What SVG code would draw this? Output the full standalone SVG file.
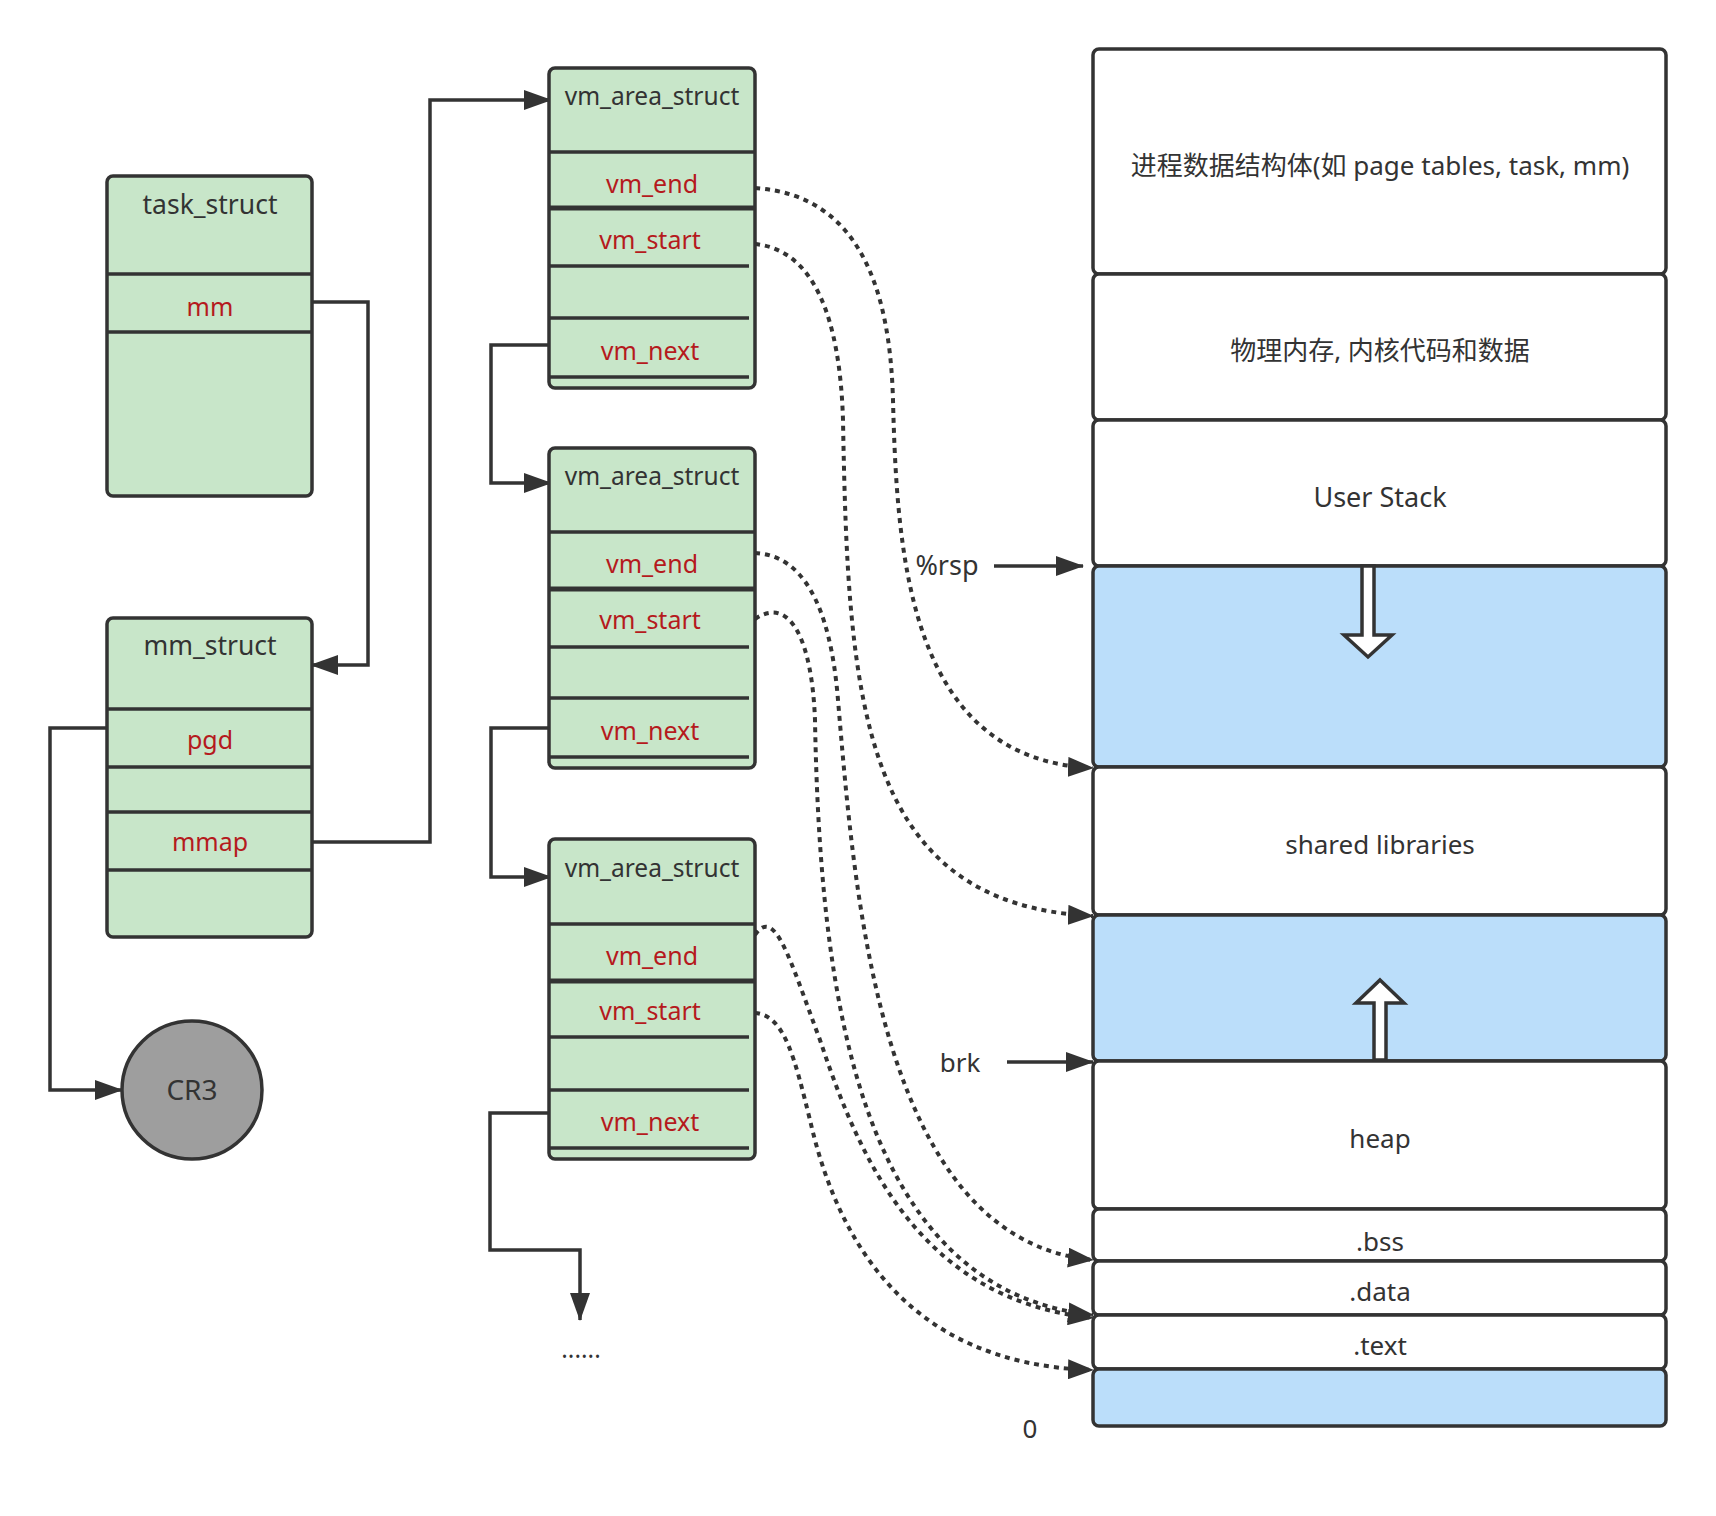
<svg xmlns="http://www.w3.org/2000/svg" width="1716" height="1516" viewBox="0 0 1716 1516">
<defs>
<style>
text{font-family:"Noto Sans","Liberation Sans","Noto Sans CJK SC",sans-serif;fill:#333;text-anchor:middle}
.t{font-size:24.5px}
.h{font-size:26.5px}
.r{font-size:25px;fill:#B51A1D}
.m{font-size:26px}
.g{fill:#C8E6C9;stroke:#333;stroke-width:3.5}
.w{fill:#fff;stroke:#333;stroke-width:3.5}
.b{fill:#BBDEFA;stroke:#333;stroke-width:3.5}
.d{stroke:#333;stroke-width:3.5}
.c{fill:none;stroke:#333;stroke-width:3.5;marker-end:url(#arr)}
.k{fill:none;stroke:#333;stroke-width:4;stroke-dasharray:5 5;marker-end:url(#arr2)}
.ba{fill:#fff;stroke:#333;stroke-width:3.5;stroke-linejoin:miter}
</style>
<marker id="arr" markerUnits="userSpaceOnUse" markerWidth="28" markerHeight="20" refX="27" refY="10" orient="auto"><path d="M0,0 L28,10 L0,20 Z" fill="#333"/></marker>
<marker id="arr2" markerUnits="userSpaceOnUse" markerWidth="26" markerHeight="20" refX="25" refY="10" orient="auto"><path d="M0,0 L26,10 L0,20 Z" fill="#333"/></marker>
</defs>
<rect width="1716" height="1516" fill="#fff"/>

<g id="connectors">
<path class="c" d="M312,302 H368 V665 H311"/>
<path class="c" d="M312,842 H430 V100 H551"/>
<path class="c" d="M107,728 H50 V1090 H122"/>
<path class="c" d="M549,345 H491 V483 H551"/>
<path class="c" d="M549,728 H491 V877 H551"/>
<path class="c" d="M549,1113 H490 V1250 H580 V1320"/>
<path class="c" d="M994,566 H1083"/>
<path class="c" d="M1007,1062 H1093"/>
<path class="k" d="M755,188 C860,195 890,290 893,400 C897,560 910,760 1093,768"/>
<path class="k" d="M755,244 C815,250 840,320 843,420 C848,700 860,905 1093,916"/>
<path class="k" d="M755,553 C800,555 830,600 838,700 C855,900 880,1240 1093,1260"/>
<path class="k" d="M755,619 C790,595 812,640 815,720 C820,1000 860,1290 1093,1315"/>
<path class="k" d="M755,935 C775,905 790,960 820,1040 C860,1160 920,1300 1093,1318"/>
<path class="k" d="M755,1013 C785,1015 795,1060 810,1120 C835,1230 900,1365 1093,1370"/>
</g>

<g id="task_struct">
<rect class="g" x="107" y="176" width="205" height="320" rx="6"/>
<line class="d" x1="107" y1="274" x2="312" y2="274"/>
<line class="d" x1="107" y1="332" x2="312" y2="332"/>
<text class="h" x="210" y="214">task_struct</text>
<text class="r" x="210" y="316">mm</text>
</g>

<g id="mm_struct">
<rect class="g" x="107" y="618" width="205" height="319" rx="6"/>
<line class="d" x1="107" y1="709" x2="312" y2="709"/>
<line class="d" x1="107" y1="767" x2="312" y2="767"/>
<line class="d" x1="107" y1="812" x2="312" y2="812"/>
<line class="d" x1="107" y1="870" x2="312" y2="870"/>
<text class="h" x="210" y="655">mm_struct</text>
<text class="r" x="210" y="749">pgd</text>
<text class="r" x="210" y="851">mmap</text>
</g>

<g id="cr3">
<ellipse cx="192" cy="1090" rx="70" ry="69" fill="#9E9E9E" stroke="#333" stroke-width="3.5"/>
<text x="192" y="1100" style="font-size:28px">CR3</text>
</g>

<g id="vma1">
<rect class="g" x="549" y="68" width="206" height="320" rx="6"/>
<line class="d" x1="549" y1="152" x2="755" y2="152"/>
<line x1="549" y1="208" x2="755" y2="208" stroke="#333" stroke-width="5"/>
<line class="d" x1="549" y1="266" x2="749" y2="266"/>
<line class="d" x1="549" y1="318" x2="749" y2="318"/>
<line class="d" x1="549" y1="377" x2="749" y2="377"/>
<text class="t" x="652" y="105">vm_area_struct</text>
<text class="r" x="652" y="193">vm_end</text>
<text class="r" x="650" y="249">vm_start</text>
<text class="r" x="650" y="360">vm_next</text>
</g>

<g id="vma2">
<rect class="g" x="549" y="448" width="206" height="320" rx="6"/>
<line class="d" x1="549" y1="532" x2="755" y2="532"/>
<line x1="549" y1="589" x2="755" y2="589" stroke="#333" stroke-width="5"/>
<line class="d" x1="549" y1="647" x2="749" y2="647"/>
<line class="d" x1="549" y1="698" x2="749" y2="698"/>
<line class="d" x1="549" y1="757" x2="749" y2="757"/>
<text class="t" x="652" y="485">vm_area_struct</text>
<text class="r" x="652" y="573">vm_end</text>
<text class="r" x="650" y="629">vm_start</text>
<text class="r" x="650" y="740">vm_next</text>
</g>

<g id="vma3">
<rect class="g" x="549" y="839" width="206" height="320" rx="6"/>
<line class="d" x1="549" y1="924" x2="755" y2="924"/>
<line x1="549" y1="981" x2="755" y2="981" stroke="#333" stroke-width="5"/>
<line class="d" x1="549" y1="1037" x2="749" y2="1037"/>
<line class="d" x1="549" y1="1090" x2="749" y2="1090"/>
<line class="d" x1="549" y1="1148" x2="749" y2="1148"/>
<text class="t" x="652" y="877">vm_area_struct</text>
<text class="r" x="652" y="965">vm_end</text>
<text class="r" x="650" y="1020">vm_start</text>
<text class="r" x="650" y="1131">vm_next</text>
</g>

<g id="more">
<text class="t" x="581" y="1358">......</text>
</g>

<g id="memory">
<rect class="w" x="1093" y="49" width="573" height="225" rx="6"/>
<rect class="w" x="1093" y="274" width="573" height="146" rx="6"/>
<rect class="w" x="1093" y="420" width="573" height="146" rx="6"/>
<rect class="b" x="1093" y="566" width="573" height="201" rx="6"/>
<rect class="w" x="1093" y="767" width="573" height="148" rx="6"/>
<rect class="b" x="1093" y="915" width="573" height="146" rx="6"/>
<rect class="w" x="1093" y="1061" width="573" height="148" rx="6"/>
<rect class="w" x="1093" y="1209" width="573" height="52" rx="6"/>
<rect class="w" x="1093" y="1261" width="573" height="54" rx="6"/>
<rect class="w" x="1093" y="1315" width="573" height="54" rx="6"/>
<rect class="b" x="1093" y="1369" width="573" height="57" rx="6"/>
<text class="m" x="1380" y="175">进程数据结构体(如 page tables, task, mm)</text>
<text class="m" x="1380" y="360">物理内存, 内核代码和数据</text>
<text x="1380" y="507" style="font-size:27px">User Stack</text>
<text class="m" x="1380" y="854">shared libraries</text>
<text class="m" x="1380" y="1148">heap</text>
<text class="m" x="1380" y="1251">.bss</text>
<text class="m" x="1380" y="1301">.data</text>
<text class="m" x="1380" y="1355">.text</text>
<polygon class="ba" points="1362,566 1374,566 1374,635 1392,635 1368,657 1344,635 1362,635"/>
<polygon class="ba" points="1380,980 1404,1003 1386,1003 1386,1060 1374,1060 1374,1003 1356,1003"/>
</g>

<g id="labels">
<text x="947" y="575" style="font-size:27px">%rsp</text>
<text class="m" x="960" y="1072">brk</text>
<text class="m" x="1030" y="1438">0</text>
</g>
</svg>
